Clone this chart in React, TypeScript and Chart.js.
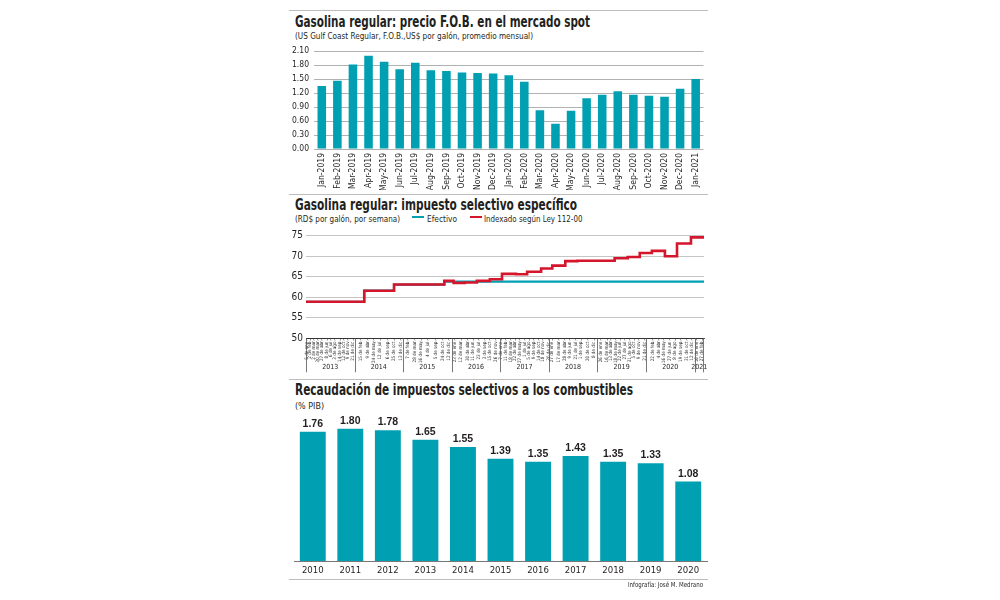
import React, { useEffect, useLayoutEffect, useRef } from 'react';
import { Chart, registerables } from 'chart.js';

Chart.register(...registerables);

const TEAL = '#00a0b2';
const RED = '#d5152b';
const INK = '#231f20';
const NARROW = "'Liberation Sans Narrow', 'DejaVu Sans Condensed', 'Roboto', sans-serif";

Chart.defaults.font.family = NARROW;
Chart.defaults.color = INK;

// ---------- Chart 1: precio F.O.B. ----------
const FOB_MONTHS = [
  'Jan-2019', 'Feb-2019', 'Mar-2019', 'Apr-2019', 'May-2019', 'Jun-2019', 'Jul-2019',
  'Aug-2019', 'Sep-2019', 'Oct-2019', 'Nov-2019', 'Dec-2019', 'Jan-2020', 'Feb-2020',
  'Mar-2020', 'Apr-2020', 'May-2020', 'Jun-2020', 'Jul-2020', 'Aug-2020', 'Sep-2020',
  'Oct-2020', 'Nov-2020', 'Dec-2020', 'Jan-2021',
];
const FOB_PRICES = [
  1.35, 1.46, 1.81, 2.0, 1.87, 1.71, 1.85, 1.69, 1.67, 1.64, 1.63, 1.62, 1.58, 1.44,
  0.83, 0.54, 0.82, 1.09, 1.16, 1.24, 1.16, 1.14, 1.12, 1.29, 1.5,
];

// ---------- Chart 2: impuesto selectivo específico ----------
const TAX_START = '2013-01-01';
const TAX_END = '2021-03-13';
const TAX_YEARS = ['2013', '2014', '2015', '2016', '2017', '2018', '2019', '2020', '2021'];
const INDEXED_DATES = [
  '2013-01-01', '2014-03-15', '2014-10-25', '2015-11-07', '2016-01-16', '2016-04-09',
  '2016-07-09', '2016-10-15', '2017-01-14', '2017-04-29', '2017-07-22', '2017-11-04',
  '2018-01-27', '2018-05-05', '2018-08-04', '2019-05-11', '2019-08-17', '2019-11-16',
  '2020-02-15', '2020-05-23', '2020-08-22', '2020-12-05', '2021-03-13',
];
const INDEXED_VALUES = [
  58.9, 61.6, 63.1, 64.0, 63.5, 63.6, 64.0, 64.4, 65.7, 65.6, 66.2, 67.0,
  67.7, 68.8, 68.9, 69.5, 69.8, 70.8, 71.3, 70.0, 73.1, 74.6, 74.6,
];
const EFECTIVO_DATES = ['2013-01-01', '2014-03-15', '2014-10-25', '2015-11-07', '2021-03-13'];
const EFECTIVO_VALUES = [58.9, 61.6, 63.1, 63.8, 63.8];
const TAX_TICK_DATES = [
  '2013-01-05', '2013-02-02', '2013-03-02', '2013-03-30', '2013-04-27', '2013-06-08',
  '2013-07-06', '2013-08-03', '2013-09-14', '2013-10-12', '2013-11-09', '2013-12-21',
  '2014-02-15', '2014-04-09', '2014-05-24', '2014-07-12', '2014-09-06', '2014-10-25', '2014-12-13',
  '2015-02-07', '2015-03-28', '2015-05-16', '2015-07-04', '2015-09-05', '2015-10-24', '2015-12-12',
  '2016-01-23', '2016-03-12', '2016-04-30', '2016-06-11', '2016-07-23', '2016-09-03', '2016-10-15', '2016-11-26',
  '2017-01-07', '2017-02-11', '2017-03-18', '2017-04-22', '2017-05-27', '2017-07-01', '2017-08-05',
  '2017-09-09', '2017-10-14', '2017-11-18', '2017-12-30',
  '2018-01-27', '2018-03-17', '2018-04-28', '2018-06-09', '2018-07-21', '2018-09-01', '2018-10-20', '2018-12-08',
  '2019-01-26', '2019-03-16', '2019-04-13', '2019-05-18', '2019-06-22', '2019-07-27', '2019-08-31',
  '2019-10-05', '2019-11-09', '2019-12-21',
  '2020-02-22', '2020-04-04', '2020-05-16', '2020-06-27', '2020-08-08', '2020-09-19', '2020-10-31', '2020-12-12',
  '2021-01-16', '2021-02-27',
];
const MESES = ['ene.', 'feb.', 'mar.', 'abr.', 'may.', 'jun.', 'jul.', 'ago.', 'sep.', 'oct.', 'nov.', 'dic.'];

// ---------- Chart 3: recaudación ----------
const REC_YEARS = ['2010', '2011', '2012', '2013', '2014', '2015', '2016', '2017', '2018', '2019', '2020'];
const REC_VALUES = [1.76, 1.8, 1.78, 1.65, 1.55, 1.39, 1.35, 1.43, 1.35, 1.33, 1.08];

const dayNum = (iso: string) => Date.parse(iso + 'T00:00:00Z') / 86400000;
const TAX_TICK_LABELS = TAX_TICK_DATES.map((iso) => {
  const d = new Date(iso + 'T00:00:00Z');
  return `${d.getUTCDate()} de ${MESES[d.getUTCMonth()]}`;
});

type FitProps = {
  text: string;
  left: number;
  top: number;
  width: number;
  size: number;
  bold?: boolean;
  align?: 'left' | 'right';
};

function FitText({ text, left, top, width, size, bold, align }: FitProps) {
  const ref = useRef<HTMLSpanElement>(null);
  useLayoutEffect(() => {
    const el = ref.current;
    if (!el) return;
    el.style.transform = 'none';
    const w = el.getBoundingClientRect().width;
    if (w > 0) el.style.transform = `scaleX(${width / w})`;
  }, [text, width]);
  return (
    <span
      ref={ref}
      style={{
        position: 'absolute',
        left: align === 'right' ? left - width : left,
        top,
        fontSize: size,
        lineHeight: `${size}px`,
        fontWeight: bold ? 700 : 400,
        fontFamily: NARROW,
        color: INK,
        whiteSpace: 'nowrap',
        transformOrigin: 'left top',
        display: 'inline-block',
      }}
    >
      {text}
    </span>
  );
}

const Rule = ({ top }: { top: number }) => (
  <div style={{ position: 'absolute', left: 289, top, width: 419, height: 1.5, background: '#bdbdbd' }} />
);

const Swatch = ({ left, color }: { left: number; color: string }) => (
  <div style={{ position: 'absolute', left, top: 215.5, width: 11.5, height: 2.6, background: color }} />
);

export default function App() {
  const fobRef = useRef<HTMLCanvasElement>(null);
  const taxRef = useRef<HTMLCanvasElement>(null);
  const recRef = useRef<HTMLCanvasElement>(null);

  useEffect(() => {
    const charts: Chart[] = [];

    if (fobRef.current) {
      charts.push(
        new Chart(fobRef.current, {
          type: 'bar',
          data: {
            labels: FOB_MONTHS,
            datasets: [
              {
                data: FOB_PRICES,
                backgroundColor: TEAL,
                barPercentage: 0.55,
                categoryPercentage: 1,
              },
            ],
          },
          options: {
            animation: false,
            responsive: false,
            layout: { padding: { top: 11, right: 6, left: 0, bottom: 0 } },
            plugins: { legend: { display: false }, tooltip: { enabled: false } },
            scales: {
              x: {
                type: 'category',
                offset: true,
                grid: { display: false, drawTicks: false },
                border: { display: false },
                ticks: {
                  autoSkip: false,
                  minRotation: 90,
                  maxRotation: 90,
                  padding: 4,
                  font: { size: 8.5 },
                  color: INK,
                },
                afterFit: (s: any) => {
                  s.height = 41;
                },
              },
              y: {
                min: 0,
                max: 2.1,
                ticks: {
                  stepSize: 0.3,
                  padding: 5,
                  font: { size: 8.5 },
                  color: INK,
                  callback: (v: any) => Number(v).toFixed(2),
                },
                grid: { color: '#a8a8a8', lineWidth: 0.9, drawTicks: false },
                border: { display: false },
                afterFit: (s: any) => {
                  s.width = 29;
                },
              },
            },
          },
        })
      );
    }

    if (taxRef.current) {
      const yearRow = {
        id: 'yearRow',
        afterDraw(chart: any) {
          const xs = chart.scales.x;
          const ctx = chart.ctx;
          const base = chart.chartArea.bottom;
          ctx.save();
          ctx.strokeStyle = '#555';
          ctx.lineWidth = 0.8;
          ctx.fillStyle = INK;
          ctx.font = `7px ${NARROW}`;
          ctx.textAlign = 'center';
          ctx.textBaseline = 'middle';
          TAX_YEARS.forEach((y, i) => {
            const x0 = xs.getPixelForValue(dayNum(`${y}-01-01`));
            const x1 =
              i < TAX_YEARS.length - 1
                ? xs.getPixelForValue(dayNum(`${TAX_YEARS[i + 1]}-01-01`))
                : chart.chartArea.right;
            ctx.beginPath();
            ctx.moveTo(Math.round(x0) + 0.5, base);
            ctx.lineTo(Math.round(x0) + 0.5, base + 34);
            ctx.stroke();
            ctx.fillText(y, (x0 + x1) / 2, base + 29);
          });
          const xr = chart.chartArea.right;
          ctx.beginPath();
          ctx.moveTo(Math.round(xr) - 0.5, base);
          ctx.lineTo(Math.round(xr) - 0.5, base + 34);
          ctx.stroke();
          ctx.restore();
        },
      };
      charts.push(
        new Chart(taxRef.current, {
          type: 'line',
          data: {
            datasets: [
              {
                label: 'Indexado según Ley 112-00',
                data: INDEXED_DATES.map((d, i) => ({ x: dayNum(d), y: INDEXED_VALUES[i] })),
                borderColor: RED,
                borderWidth: 2.6,
                stepped: true,
                pointRadius: 0,
                fill: false,
                order: 1,
              },
              {
                label: 'Efectivo',
                data: EFECTIVO_DATES.map((d, i) => ({ x: dayNum(d), y: EFECTIVO_VALUES[i] })),
                borderColor: TEAL,
                borderWidth: 2.2,
                stepped: true,
                pointRadius: 0,
                fill: false,
                order: 2,
              },
            ],
          },
          options: {
            animation: false,
            responsive: false,
            layout: { padding: { top: 13.7, right: 6, left: 0, bottom: 0 } },
            plugins: { legend: { display: false }, tooltip: { enabled: false } },
            scales: {
              x: {
                type: 'linear',
                min: dayNum(TAX_START),
                max: dayNum(TAX_END),
                afterBuildTicks: (s: any) => {
                  s.ticks = TAX_TICK_DATES.map((d) => ({ value: dayNum(d) }));
                },
                ticks: {
                  autoSkip: false,
                  minRotation: 90,
                  maxRotation: 90,
                  padding: 0,
                  font: { size: 4.6 },
                  color: INK,
                  callback: (_v: any, i: number) => TAX_TICK_LABELS[i],
                },
                grid: { drawOnChartArea: false, drawTicks: true, tickLength: 2, color: '#555', lineWidth: 0.6 },
                border: { display: true, color: '#333', width: 1 },
                afterFit: (s: any) => {
                  s.height = 38.7;
                },
              },
              y: {
                min: 50,
                max: 75,
                ticks: { stepSize: 5, padding: 3, font: { size: 10 }, color: INK },
                grid: { color: '#bdbdbd', lineWidth: 0.9, drawTicks: false },
                border: { display: false },
                afterFit: (s: any) => {
                  s.width = 21;
                },
              },
            },
          },
          plugins: [yearRow],
        })
      );
    }

    if (recRef.current) {
      const valueLabels = {
        id: 'valueLabels',
        afterDatasetsDraw(chart: any) {
          const ctx = chart.ctx;
          const meta = chart.getDatasetMeta(0);
          ctx.save();
          ctx.fillStyle = INK;
          ctx.font = `bold 10.5px 'Liberation Sans', 'DejaVu Sans', sans-serif`;
          ctx.textAlign = 'center';
          ctx.textBaseline = 'bottom';
          meta.data.forEach((el: any, i: number) => {
            ctx.fillText(REC_VALUES[i].toFixed(2), el.x, el.y - 2.5);
          });
          ctx.restore();
        },
      };
      charts.push(
        new Chart(recRef.current, {
          type: 'bar',
          data: {
            labels: REC_YEARS,
            datasets: [
              {
                data: REC_VALUES,
                backgroundColor: TEAL,
                barPercentage: 0.69,
                categoryPercentage: 1,
              },
            ],
          },
          options: {
            animation: false,
            responsive: false,
            layout: { padding: { top: 4, right: 3, left: 9, bottom: 0 } },
            plugins: { legend: { display: false }, tooltip: { enabled: false } },
            scales: {
              x: {
                type: 'category',
                offset: true,
                grid: { display: false, drawTicks: false },
                border: { display: true, color: '#777', width: 1 },
                ticks: { padding: 4, font: { size: 9.5 }, color: INK },
                afterFit: (s: any) => {
                  s.height = 19;
                },
              },
              y: { display: false, min: 0, max: 2.0 },
            },
          },
          plugins: [valueLabels],
        })
      );
    }

    return () => charts.forEach((c) => c.destroy());
  }, []);

  return (
    <div
      style={{
        position: 'absolute',
        left: 0,
        top: 0,
        width: 1000,
        height: 600,
        background: '#fff',
        overflow: 'hidden',
      }}
    >
      <Rule top={9.5} />
      <FitText text="Gasolina regular: precio F.O.B. en el mercado spot" left={295} top={14.6} width={295} size={15.5} bold />
      <FitText
        text="(US Gulf Coast Regular, F.O.B.,US$ por galón, promedio mensual)"
        left={295}
        top={32.1}
        width={238}
        size={8.5}
      />
      <canvas ref={fobRef} width={425} height={150} style={{ position: 'absolute', left: 285, top: 40, width: 425, height: 150 }} />

      <Rule top={193.8} />
      <FitText text="Gasolina regular: impuesto selectivo específico" left={295} top={198} width={282} size={15} bold />
      <FitText text="(RD$ por galón, por semana)" left={295} top={214.9} width={105} size={9} />
      <Swatch left={412.3} color={TEAL} />
      <FitText text="Efectivo" left={426.7} top={214.6} width={30} size={9} />
      <Swatch left={470.2} color={RED} />
      <FitText text="Indexado según Ley 112-00" left={484.3} top={214.6} width={98.4} size={9} />
      <canvas ref={taxRef} width={425} height={155} style={{ position: 'absolute', left: 285, top: 222, width: 425, height: 155 }} />

      <Rule top={378.6} />
      <FitText text="Recaudación de impuestos selectivos a los combustibles" left={295} top={383} width={338} size={15} bold />
      <FitText text="(% PIB)" left={295} top={401.6} width={29} size={8.5} />
      <canvas ref={recRef} width={425} height={170} style={{ position: 'absolute', left: 285, top: 410, width: 425, height: 170 }} />

      <Rule top={578.5} />
      <FitText text="Infografía: José M. Medrano" left={703.3} top={581.6} width={75} size={7} align="right" />
    </div>
  );
}
